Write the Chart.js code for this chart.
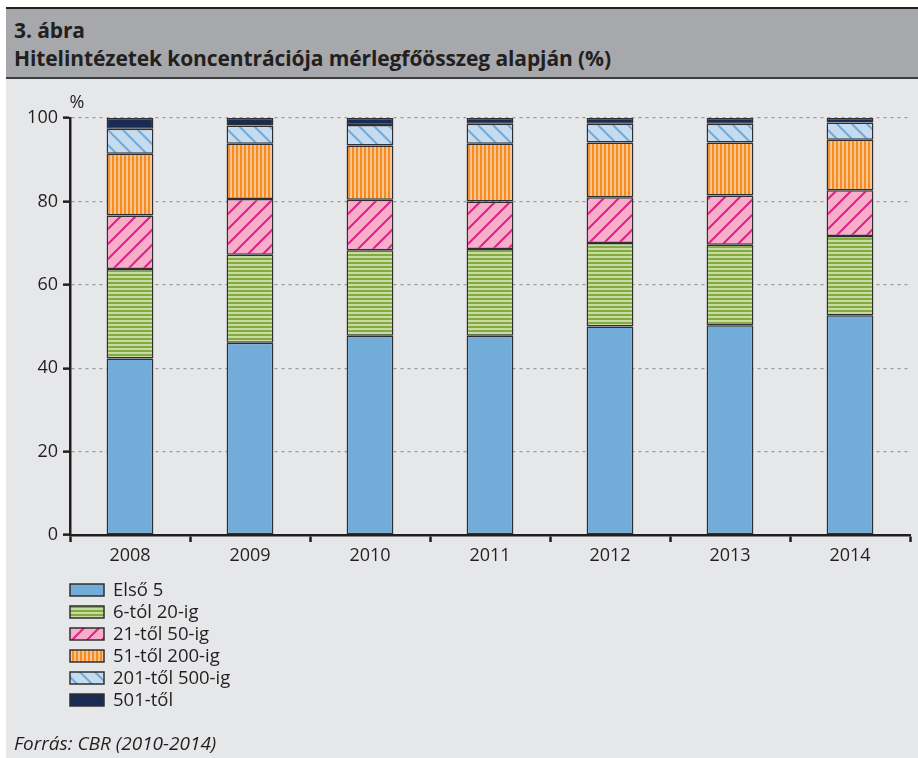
<!DOCTYPE html>
<html>
<head>
<meta charset="utf-8">
<script src="https://cdn.jsdelivr.net/npm/chart.js@4.4.1/dist/chart.umd.min.js"></script>
<style>
  body { margin: 0; width: 918px; height: 758px; overflow: hidden; background: #fff; font-family: "Open Sans", sans-serif; color: #231f20; }
  #frame { position: absolute; left: 6px; top: 7px; right: 0; bottom: 0; background: #e6e7e9; border-top: 2.5px solid #231f20; }
  #head { height: 70px; background: #a7a8ab; border-bottom: 2px solid #3c3b3d; padding: 7px 0 0 8px; box-sizing: border-box; }
  #head div { font-weight: bold; font-size: 21px; line-height: 28px; letter-spacing: -0.1px; }
  #chartBox { position: absolute; left: 0; top: 82px; width: 918px; height: 676px; }
  #source { position: absolute; left: 14px; top: 732px; font-style: italic; font-size: 19px; line-height: 22px; }
</style>
</head>
<body>
<div id="frame">
  <div id="head">
    <div>3. ábra</div>
    <div>Hitelintézetek koncentrációja mérlegfőösszeg alapján (%)</div>
  </div>
</div>
<div id="chartBox"><canvas id="myChart"></canvas></div>
<div id="source">Forrás: CBR (2010-2014)</div>

<script>
const years = ["2008", "2009", "2010", "2011", "2012", "2013", "2014"];
const seriesNames = ["Első 5", "6-tól 20-ig", "21-től 50-ig", "51-től 200-ig", "201-től 500-ig", "501-től"];

const first5 = [42.3, 46.1, 47.8, 47.8, 50.0, 50.3, 52.7];
const from6to20 = [21.5, 21.1, 20.5, 20.8, 20.0, 19.3, 19.0];
const from21to50 = [12.8, 13.4, 12.1, 11.4, 11.0, 11.8, 11.0];
const from51to200 = [14.8, 13.2, 13.0, 13.8, 13.1, 12.7, 12.1];
const from201to500 = [6.0, 4.4, 4.9, 4.8, 4.5, 4.5, 4.1];
const from501 = [2.6, 1.8, 1.7, 1.4, 1.4, 1.4, 1.1];

const yTicks = [0, 20, 40, 60, 80, 100];

// kitöltő minták (csíkok)
function makePattern(w, h, draw) {
    let c = document.createElement("canvas");
    c.width = w;
    c.height = h;
    let g = c.getContext("2d");
    draw(g, w, h);
    return document.createElement("canvas").getContext("2d").createPattern(c, "repeat");
}

const greenStripes = makePattern(4, 4, function (g) {
    g.fillStyle = "#c9dba4";
    g.fillRect(0, 0, 4, 4);
    g.fillStyle = "#84a93d";
    g.fillRect(0, 0, 4, 2);
});

const pinkHatch = makePattern(15, 15, function (g, w, h) {
    g.fillStyle = "#f6aec9";
    g.fillRect(0, 0, w, h);
    g.strokeStyle = "#e0208a";
    g.lineWidth = 2;
    g.beginPath();
    g.moveTo(-w, h); g.lineTo(w, -h);
    g.moveTo(0, h); g.lineTo(w, 0);
    g.moveTo(0, 2 * h); g.lineTo(2 * w, 0);
    g.stroke();
});

const orangeStripes = makePattern(4, 4, function (g) {
    g.fillStyle = "#fdc58d";
    g.fillRect(0, 0, 4, 4);
    g.fillStyle = "#f68b1f";
    g.fillRect(0, 0, 2, 4);
});

const blueHatch = makePattern(15, 15, function (g, w, h) {
    g.fillStyle = "#c4dbf0";
    g.fillRect(0, 0, w, h);
    g.strokeStyle = "#72aad8";
    g.lineWidth = 2;
    g.beginPath();
    g.moveTo(-w, 0); g.lineTo(w, 2 * h);
    g.moveTo(0, 0); g.lineTo(w, h);
    g.moveTo(0, -h); g.lineTo(2 * w, h);
    g.stroke();
});

const fills = ["#72acd8", greenStripes, pinkHatch, orangeStripes, blueHatch, "#172b55"];
const values = [first5, from6to20, from21to50, from51to200, from201to500, from501];

// jelmagyarázat + "%" felirat
const extraPlugin = {
    id: "extra",
    afterDraw(chart) {
        const ctx = chart.ctx;
        const area = chart.chartArea;
        ctx.save();
        ctx.fillStyle = "#231f20";
        ctx.font = "18px 'Open Sans'";
        ctx.textAlign = "center";
        ctx.textBaseline = "middle";
        ctx.fillText("%", area.left + 7, area.top - 15);

        ctx.font = "18.5px 'Open Sans'";
        ctx.textAlign = "left";
        chart.data.datasets.forEach(function (ds, i) {
            let y = area.bottom + 55 + i * 22;
            ctx.fillStyle = ds.backgroundColor;
            ctx.fillRect(70, y - 6, 34, 12);
            ctx.strokeStyle = "#2f2f31";
            ctx.lineWidth = 1.5;
            ctx.strokeRect(70, y - 6, 34, 12);
            ctx.fillStyle = "#231f20";
            ctx.fillText(ds.label, 113, y + 1);
        });
        ctx.restore();
    }
};

const chartConfig = {
    type: "bar",
    data: {
        labels: years,
        datasets: seriesNames.map(function (name, i) {
            return {
                label: name,
                data: values[i],
                backgroundColor: fills[i],
                borderColor: "#2f2f31",
                borderWidth: 1.5,
                borderSkipped: false,
                categoryPercentage: 1,
                barPercentage: 0.39
            };
        })
    },
    options: {
        responsive: true,
        maintainAspectRatio: false,
        animation: false,
        layout: {
            padding: { left: 0, right: 8, top: 36, bottom: 193 }
        },
        plugins: {
            legend: { display: false },
            tooltip: { enabled: false }
        },
        scales: {
            x: {
                stacked: true,
                afterFit: function (s) { s.height = 30; },
                grid: {
                    offset: true,
                    drawOnChartArea: false,
                    tickLength: 7,
                    tickColor: "#231f20",
                    tickWidth: 2.5
                },
                border: { color: "#231f20", width: 2.5 },
                ticks: {
                    color: "#231f20",
                    font: { family: "Open Sans", size: 18 },
                    padding: 3
                }
            },
            y: {
                stacked: true,
                min: 0,
                max: 100,
                afterFit: function (s) { s.width = 70; },
                afterBuildTicks: function (s) {
                    s.ticks = yTicks.map(function (v) { return { value: v }; });
                },
                grid: {
                    color: "#9a9a9c",
                    lineWidth: 1.3,
                    tickLength: 7,
                    tickColor: "#231f20",
                    tickWidth: 2.5,
                    tickBorderDash: []
                },
                border: { color: "#231f20", width: 2.5, dash: [3, 4] },
                ticks: {
                    color: "#231f20",
                    font: { family: "Open Sans", size: 18 },
                    padding: 5
                }
            }
        }
    },
    plugins: [extraPlugin]
};

new Chart(document.getElementById("myChart"), chartConfig);
</script>
</body>
</html>
